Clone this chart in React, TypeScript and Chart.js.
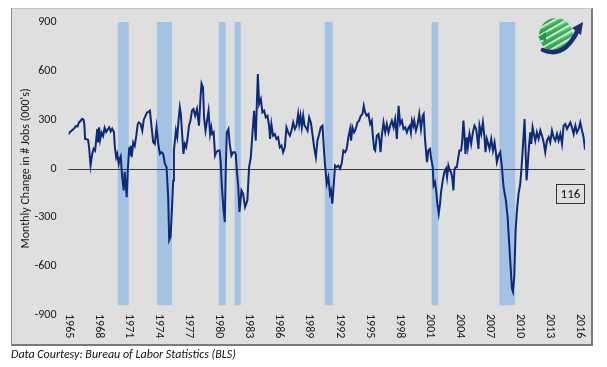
import React, { useEffect, useRef } from "react";
import { Chart, registerables } from "chart.js";

Chart.register(...registerables);

// Decimal-year dates of the plotted points (monthly payroll change, 000's)
const dates: number[] = [
  1965.0, 1965.15, 1965.3, 1965.45, 1965.6, 1965.75, 1965.9, 1966.04, 1966.2, 1966.35, 1966.5, 1966.58, 1966.65, 1966.8, 1966.95,
  1967.05, 1967.2, 1967.35, 1967.5, 1967.65, 1967.75, 1967.87, 1967.95, 1968.05, 1968.15, 1968.3, 1968.45, 1968.6, 1968.75, 1968.9,
  1969.05, 1969.2, 1969.35, 1969.53, 1969.62, 1969.75, 1969.85, 1970.0, 1970.1, 1970.2, 1970.35, 1970.5, 1970.6, 1970.8, 1970.92,
  1971.05, 1971.12, 1971.2, 1971.3, 1971.45, 1971.6, 1971.75, 1971.9, 1972.0, 1972.18, 1972.35, 1972.5, 1972.68, 1972.84, 1973.0,
  1973.11, 1973.2, 1973.3, 1973.44, 1973.6, 1973.77, 1973.94, 1974.1, 1974.27, 1974.43, 1974.6, 1974.77, 1974.93, 1975.03, 1975.17,
  1975.3, 1975.43, 1975.5, 1975.7, 1975.83, 1975.96, 1976.09, 1976.19, 1976.32, 1976.45, 1976.58, 1976.72, 1976.85, 1977.0, 1977.15,
  1977.3, 1977.45, 1977.62, 1977.8, 1978.0, 1978.15, 1978.25, 1978.4, 1978.5, 1978.65, 1978.8, 1978.95, 1979.1, 1979.22, 1979.32,
  1979.46, 1979.6, 1979.72, 1979.9, 1980.05, 1980.15, 1980.28, 1980.45, 1980.57, 1980.67, 1980.77, 1980.93, 1981.06, 1981.23, 1981.4,
  1981.56, 1981.66, 1981.79, 1981.9, 1982.03, 1982.23, 1982.39, 1982.59, 1982.82, 1982.99, 1983.16, 1983.32, 1983.49, 1983.65, 1983.75,
  1983.86, 1983.99, 1984.16, 1984.32, 1984.49, 1984.65, 1984.82, 1984.98, 1985.08, 1985.21, 1985.38, 1985.55, 1985.71, 1985.88, 1986.05,
  1986.21, 1986.38, 1986.55, 1986.71, 1986.88, 1987.05, 1987.21, 1987.38, 1987.55, 1987.71, 1987.88, 1987.98, 1988.11, 1988.24, 1988.38,
  1988.51, 1988.64, 1988.81, 1988.97, 1989.14, 1989.3, 1989.47, 1989.64, 1989.8, 1989.97, 1990.13, 1990.3, 1990.42, 1990.53, 1990.63,
  1990.72, 1990.88, 1991.05, 1991.15, 1991.28, 1991.45, 1991.55, 1991.71, 1991.88, 1992.05, 1992.21, 1992.38, 1992.55, 1992.71, 1992.88,
  1993.05, 1993.15, 1993.28, 1993.45, 1993.61, 1993.78, 1993.95, 1994.11, 1994.28, 1994.41, 1994.55, 1994.71, 1994.88, 1995.05, 1995.21,
  1995.31, 1995.45, 1995.55, 1995.71, 1995.88, 1995.98, 1996.08, 1996.21, 1996.38, 1996.55, 1996.71, 1996.88, 1997.04, 1997.21, 1997.38,
  1997.54, 1997.71, 1997.88, 1998.04, 1998.21, 1998.37, 1998.54, 1998.71, 1998.87, 1999.0, 1999.11, 1999.21, 1999.35, 1999.44, 1999.61,
  1999.78, 1999.94, 2000.11, 2000.28, 2000.38, 2000.51, 2000.61, 2000.71, 2000.84, 2001.01, 2001.11, 2001.28, 2001.37, 2001.51, 2001.64,
  2001.74, 2001.88, 2002.01, 2002.11, 2002.28, 2002.44, 2002.61, 2002.71, 2002.84, 2002.97, 2003.11, 2003.24, 2003.34, 2003.44, 2003.54,
  2003.68, 2003.78, 2003.94, 2004.11, 2004.21, 2004.34, 2004.44, 2004.54, 2004.68, 2004.78, 2004.94, 2005.11, 2005.28, 2005.44, 2005.61,
  2005.71, 2005.84, 2005.94, 2006.11, 2006.28, 2006.44, 2006.54, 2006.67, 2006.77, 2006.94, 2007.11, 2007.28, 2007.44, 2007.55, 2007.67,
  2007.84, 2008.01, 2008.17, 2008.34, 2008.57, 2008.74, 2008.9, 2009.04, 2009.17, 2009.27, 2009.4, 2009.54, 2009.67, 2009.83, 2010.0,
  2010.13, 2010.26, 2010.43, 2010.53, 2010.63, 2010.73, 2010.86, 2011.0, 2011.1, 2011.23, 2011.36, 2011.5, 2011.66, 2011.83, 2012.0,
  2012.16, 2012.33, 2012.49, 2012.66, 2012.83, 2012.99, 2013.16, 2013.32, 2013.49, 2013.66, 2013.82, 2013.99, 2014.16, 2014.32, 2014.49,
  2014.66, 2014.82, 2014.99, 2015.15, 2015.32, 2015.49, 2015.65, 2015.82, 2015.98, 2016.15, 2016.31, 2016.45,
];

const jobs: number[] = [
  210, 225, 232, 240, 250, 262, 258, 283, 292, 305, 300, 270, 182, 180, 176,
  130, 18, 85, 122, 110, 170, 243, 160, 253, 175, 220, 200, 250, 225, 240,
  253, 228, 245, 222, 130, 69, 90, 30, 60, 75, -53, -135, -20, -176, 4,
  130, 80, 140, 70, 160, 140, 200, 273, 283, 275, 232, 300, 325, 345, 350,
  355, 300, 240, 161, 151, 253, 151, 90, 100, 90, 29, 8, -176, -441, -420,
  -257, -73, 110, 233, 192, 294, 375, 334, 212, 90, 151, 131, 182, 263, 294,
  355, 365, 324, 365, 263, 436, 522, 498, 314, 233, 294, 355, 212, 253, 212,
  222, 80, 100, 110, 110, 49, -114, -257, -329, 8, 222, 243, 151, 80, 100,
  100, 90, -33, -100, -267, -135, -155, -237, -196, 8, 69, 212, 355, 171, 375,
  580, 396, 426, 345, 355, 314, 324, 263, 182, 273, 202, 212, 182, 192, 130,
  141, 100, 130, 253, 222, 202, 233, 283, 243, 263, 335, 273, 324, 253, 324,
  263, 253, 233, 314, 283, 212, 130, 69, 171, 212, 253, 263, 140, 40, -30,
  -94, -53, -155, -135, -216, -73, 18, 8, 18, 0, 29, 110, 100, 120, 192,
  243, 171, 253, 222, 243, 283, 294, 324, 334, 385, 345, 324, 334, 273, 294,
  202, 120, 110, 202, 212, 171, 100, 202, 283, 222, 273, 222, 263, 294, 253,
  304, 182, 385, 273, 294, 243, 253, 222, 250, 263, 222, 294, 263, 294, 233,
  273, 335, 243, 324, 335, 182, 110, 39, 110, 120, 69, 8, -104, -84, -145,
  -216, -278, -216, -145, -73, -22, 0, -53, 18, -12, -22, -63, -135, -12, 8,
  8, 49, 110, 110, 161, 294, 212, 90, 192, 131, 212, 151, 222, 263, 243,
  192, 120, 263, 212, 283, 192, 100, 182, 161, 120, 182, 110, 160, 110, 39,
  80, 100, 8, -114, -196, -298, -461, -604, -736, -757, -665, -379, -257, -155, -94,
  8, 130, 304, 110, -73, 8, 130, 222, 151, 253, 212, 171, 222, 182, 233,
  202, 161, 100, 171, 192, 161, 233, 192, 171, 212, 171, 212, 151, 263, 273,
  243, 263, 283, 253, 212, 263, 222, 243, 283, 233, 192, 116,
];

// Recession shading (decimal years)
const recessionStart: number[] = [1969.92, 1973.8, 1979.97, 1981.55, 1990.52, 2001.17, 2007.92];
const recessionEnd: number[] = [1971.0, 1975.3, 1980.67, 1982.15, 1991.32, 2001.83, 2009.5];
const shadeTop = 900;
const shadeBottom = -840;

const xTickYears: number[] = [
  1965, 1968, 1971, 1974, 1977, 1980, 1983, 1986, 1989, 1992, 1995, 1998, 2001, 2004, 2007, 2010, 2013, 2016,
];
const yMin = -900;
const yMax = 900;
const yStep = 300;
const xMin = 1965;
const xMax = 2016.45;

const yTitle = "Monthly Change in # Jobs (000's)";
const sourceText = "Data Courtesy: Bureau of Labor Statistics (BLS)";

const FONT = "Carlito, Lato, 'Open Sans', sans-serif";

const decorPlugin = {
  id: "decor",
  beforeDatasetsDraw(chart: any) {
    const { ctx, chartArea } = chart;
    const x = chart.scales.x;
    const y = chart.scales.y;
    ctx.save();
    ctx.fillStyle = "#a4c2e3";
    recessionStart.forEach((s, i) => {
      const x0 = x.getPixelForValue(s);
      const x1 = x.getPixelForValue(recessionEnd[i]);
      const y0 = y.getPixelForValue(shadeTop);
      const y1 = y.getPixelForValue(shadeBottom);
      ctx.fillRect(x0, y0, x1 - x0, y1 - y0);
    });
    const zy = Math.round(y.getPixelForValue(0)) + 0.5;
    ctx.strokeStyle = "#3a3a3a";
    ctx.lineWidth = 1;
    ctx.beginPath();
    ctx.moveTo(chartArea.left, zy);
    ctx.lineTo(chartArea.right, zy);
    ctx.stroke();
    ctx.restore();
  },
  afterDraw(chart: any) {
    const { ctx, chartArea } = chart;
    const x = chart.scales.x;
    ctx.save();
    ctx.font = `12px ${FONT}`;
    ctx.fillStyle = "#1a1a1a";
    ctx.textAlign = "left";
    ctx.textBaseline = "middle";
    xTickYears.forEach((yr) => {
      const px = x.getPixelForValue(yr);
      ctx.save();
      ctx.translate(px, chartArea.bottom - 1);
      ctx.rotate(Math.PI / 2);
      ctx.fillText(String(yr), 0, 0);
      ctx.restore();
    });
    ctx.restore();
  },
};

function Logo() {
  return (
    <svg
      width={52}
      height={46}
      viewBox="0 0 52 46"
      style={{ position: "absolute", left: 534, top: 13 }}
    >
      <defs>
        <clipPath id="globeClip">
          <circle cx={22} cy={22} r={17} />
        </clipPath>
        <linearGradient id="globeGrad" x1="0" y1="1" x2="1" y2="0">
          <stop offset="0" stopColor="#0c9440" />
          <stop offset="0.6" stopColor="#3dbb5e" />
          <stop offset="1" stopColor="#b6e3b4" />
        </linearGradient>
      </defs>
      <g clipPath="url(#globeClip)">
        <g transform="rotate(-30 22 22)">
          {[3, 9, 15, 21, 27, 33].map((yy, i) => (
            <rect key={i} x={0} y={yy} width={46} height={4.2} fill="url(#globeGrad)" />
          ))}
        </g>
      </g>
      <path d="M9 37 Q30 46 44 17" stroke="#1c2f6b" strokeWidth={4.5} fill="none" strokeLinecap="round" />
      <polygon points="49,9 38,15 47,22" fill="#1c2f6b" />
      <polygon points="4,24 12,19 12,29" fill="#1c9a48" />
    </svg>
  );
}

export default function App() {
  const canvasRef = useRef<HTMLCanvasElement | null>(null);

  useEffect(() => {
    document.body.style.margin = "0";
    const canvas = canvasRef.current;
    if (!canvas) return;
    const chart = new Chart(canvas, {
      type: "line",
      data: {
        datasets: [
          {
            data: dates.map((d, i) => ({ x: d, y: jobs[i] })),
            borderColor: "#0d2a78",
            borderWidth: 2,
            pointRadius: 0,
            tension: 0,
            fill: false,
          },
        ],
      },
      options: {
        animation: false,
        responsive: false,
        maintainAspectRatio: false,
        layout: { padding: { left: 0, top: 22, right: 22, bottom: 52 } },
        plugins: {
          legend: { display: false },
          tooltip: { enabled: false },
        },
        scales: {
          x: { type: "linear", display: false, min: xMin, max: xMax },
          y: {
            min: yMin,
            max: yMax,
            afterFit: (s: any) => {
              s.width = 68.5;
            },
            ticks: {
              stepSize: yStep,
              padding: 12,
              color: "#1a1a1a",
              font: { family: FONT, size: 12 },
              callback: (v: any) => String(v),
            },
            grid: { display: false, drawTicks: false },
            border: { display: false },
            title: {
              display: true,
              text: yTitle,
              color: "#1a1a1a",
              font: { family: FONT, size: 12 },
              padding: { top: 19, bottom: 0 },
            },
          },
        },
      } as any,
      plugins: [decorPlugin],
    });
    return () => chart.destroy();
  }, []);

  return (
    <div style={{ position: "relative", width: 607, height: 367, background: "#ffffff", overflow: "hidden" }}>
      <div
        style={{
          position: "absolute",
          left: 11,
          top: 8,
          width: 582,
          height: 338,
          boxSizing: "border-box",
          background: "#dfdfdf",
          borderTop: "1px solid #c4c4c4",
          borderLeft: "1px solid #8a8a8a",
          borderRight: "2px solid #7a7a7a",
          borderBottom: "2px solid #7a7a7a",
        }}
      />
      <canvas
        ref={canvasRef}
        width={607}
        height={367}
        style={{ position: "absolute", left: 0, top: 0, width: 607, height: 367 }}
      />
      <Logo />
      <div
        style={{
          position: "absolute",
          left: 556,
          top: 184,
          width: 29,
          height: 20,
          boxSizing: "border-box",
          border: "1px solid #333",
          fontFamily: FONT,
          fontSize: 13,
          lineHeight: "18px",
          textAlign: "center",
          color: "#111",
        }}
      >
        {String(jobs[jobs.length - 1])}
      </div>
      <div
        style={{
          position: "absolute",
          left: 11,
          top: 347,
          fontFamily: FONT,
          fontStyle: "italic",
          fontSize: 12,
          color: "#111",
          whiteSpace: "nowrap",
        }}
      >
        {sourceText}
      </div>
    </div>
  );
}
